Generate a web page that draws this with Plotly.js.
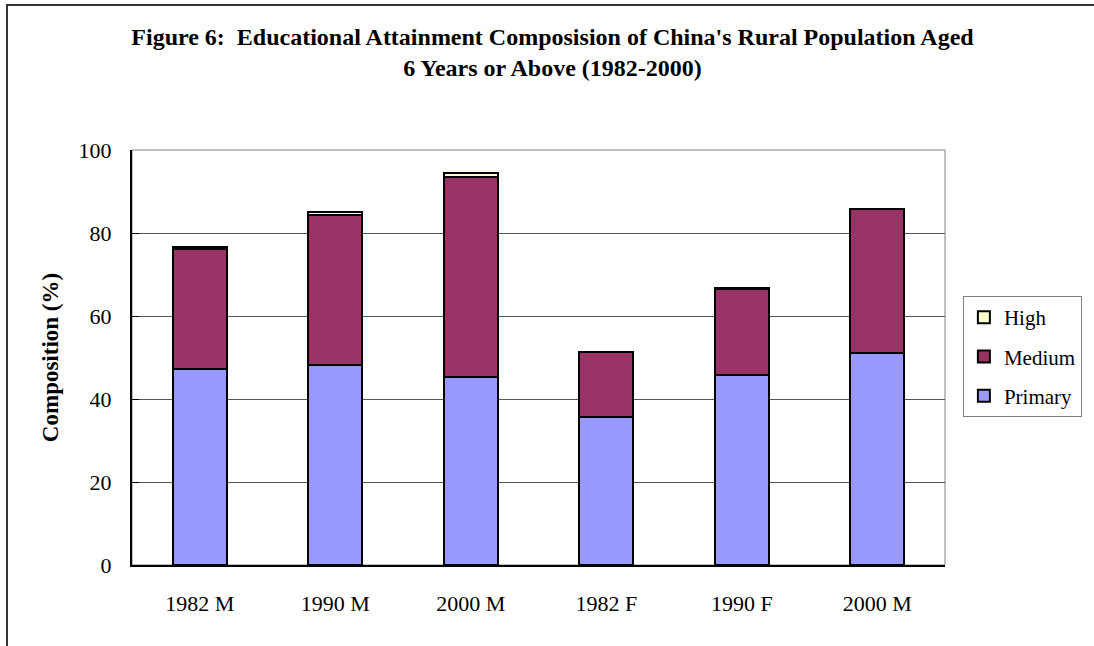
<!DOCTYPE html>
<html>
<head>
<meta charset="utf-8">
<script src="https://cdn.plot.ly/plotly-3.0.1.min.js"></script>
<style>
  html, body { margin: 0; padding: 0; background: #fff; }
  #wrap { position: relative; width: 1094px; height: 646px; overflow: hidden; }
  #chart { position: absolute; left: 0; top: 0; width: 1094px; height: 646px; }
  #frame { position: absolute; left: 6px; top: 4px; width: 1200px; height: 700px;
           border-left: 2px solid #333; border-top: 2px solid #333; pointer-events: none; }
</style>
</head>
<body>
<div id="wrap">
  <div id="chart"></div>
  <div id="frame"></div>
</div>
<script>
// Educational attainment composition (%) of the rural population aged 6+
const categories = ["1982 M", "1990 M", "2000 M", "1982 F", "1990 F", "2000 M"];
const primary = [47.3, 48.2, 45.4, 35.7, 45.8, 51.1];
const medium  = [28.8, 36.2, 48.0, 15.6, 20.8, 34.7];
const high    = [0.6, 0.7, 1.0, 0.05, 0.05, 0.1];
const yTicks  = [0, 20, 40, 60, 80, 100];

const xs = categories.map((_, i) => i);
const serif = "Liberation Serif, Times New Roman, serif";

function stack(name, vals, color, rank) {
  return {
    type: "bar", name: name, x: xs, y: vals, legendgroup: name, legendrank: rank,
    width: 0.4,
    marker: { color: color, line: { color: "#000", width: 2 } },
    hoverinfo: "x+y+name"
  };
}

// stacked bottom-to-top; legend lists the top segment first
const data = [
  stack("Primary", primary, "#9999FF", 3),
  stack("Medium", medium, "#993366", 2),
  stack("High", high, "#FFFFCC", 1)
];

const layout = {
  width: 1094, height: 646,
  paper_bgcolor: "#fff", plot_bgcolor: "#fff",
  margin: { l: 132, r: 146, t: 150, b: 81 },
  barmode: "stack",
  font: { family: serif, size: 21, color: "#000" },
  title: {
    text: "<b>Figure 6:  Educational Attainment Composision of China's Rural Population Aged<br>6 Years or Above (1982-2000)</b>",
    font: { family: serif, size: 24, color: "#000" },
    xref: "container", x: 0.505, xanchor: "center",
    yref: "container", y: 0.93, yanchor: "top"
  },
  xaxis: {
    range: [-0.5, 5.5],
    tickvals: xs, ticktext: categories,
    ticks: "", showgrid: false, zeroline: false,
    showline: true, linecolor: "#000", linewidth: 2,
    ticklabelstandoff: 18,
    tickfont: { family: serif, size: 22 }
  },
  xaxis2: {
    overlaying: "x", anchor: "y", side: "bottom",
    range: [-0.5, 5.5],
    tickvals: [0.5, 1.5, 2.5, 3.5, 4.5],
    ticks: "inside", ticklen: 6, tickcolor: "#555", tickwidth: 1,
    showticklabels: false, showgrid: false, zeroline: false, showline: false
  },
  yaxis: {
    range: [0, 100], tickvals: yTicks,
    ticks: "inside", ticklen: 7, tickcolor: "#000", tickwidth: 1,
    showgrid: true, gridcolor: "#555", gridwidth: 1,
    zeroline: false,
    showline: true, linecolor: "#000", linewidth: 2,
    ticklabelstandoff: 14,
    tickfont: { family: serif, size: 22 },
    title: { text: "<b>Composition (%)</b>", font: { family: serif, size: 23 }, standoff: 14 }
  },
  shapes: [{
    type: "rect", xref: "paper", yref: "paper", x0: 0, x1: 1, y0: 0, y1: 1,
    line: { color: "#808080", width: 1 }, layer: "below"
  }],
  legend: {
    x: 1.022, xanchor: "left", y: 0.648, yanchor: "top",
    traceorder: "grouped",
    tracegroupgap: 9,
    bgcolor: "#fff", bordercolor: "#808080", borderwidth: 1,
    font: { family: serif, size: 21, color: "#000" },
    itemwidth: 30
  },
  showlegend: true
};

Plotly.newPlot("chart", data, layout, { displayModeBar: false, staticPlot: true });
</script>
</body>
</html>
